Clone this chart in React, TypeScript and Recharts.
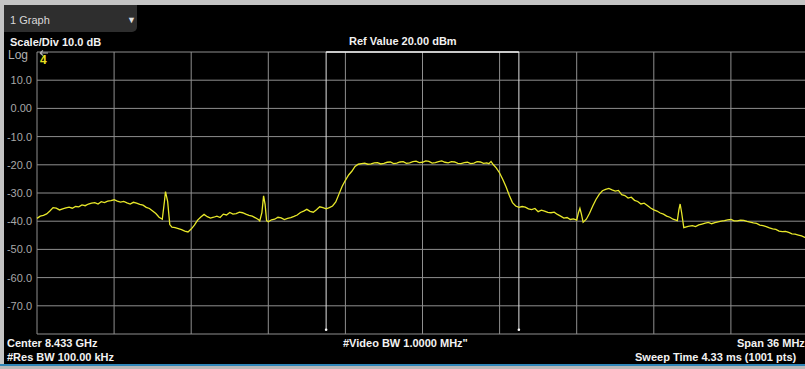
import { ComposedChart, Line, XAxis, YAxis, ReferenceLine, ReferenceDot } from 'recharts'

const freqMHz = [
  -18.0, -17.85, -17.7, -17.55, -17.4, -17.25, -17.1, -16.95, -16.8, -16.65,
  -16.5, -16.35, -16.2, -16.05, -15.9, -15.75, -15.6, -15.45, -15.3, -15.15,
  -15.0, -14.85, -14.7, -14.55, -14.4, -14.25, -14.1, -13.95, -13.8, -13.65,
  -13.5, -13.35, -13.2, -13.05, -12.9, -12.75, -12.6, -12.45, -12.3, -12.15,
  -12.05, -12.0, -11.9, -11.8, -11.7, -11.55, -11.4, -11.25, -11.1, -10.95,
  -10.8, -10.65, -10.5, -10.35, -10.2, -10.05, -9.9, -9.75, -9.6, -9.45,
  -9.3, -9.15, -9.0, -8.85, -8.7, -8.55, -8.4, -8.25, -8.1, -7.95,
  -7.8, -7.65, -7.6, -7.5, -7.42, -7.35, -7.28, -7.2, -7.05, -6.9,
  -6.75, -6.6, -6.45, -6.3, -6.15, -6.0, -5.85, -5.7, -5.55, -5.4,
  -5.25, -5.1, -4.95, -4.8, -4.65, -4.5, -4.35, -4.2, -4.05, -3.9,
  -3.75, -3.6, -3.45, -3.3, -3.15, -3.0, -2.85, -2.7, -2.55, -2.4,
  -2.25, -2.1, -1.95, -1.8, -1.65, -1.5, -1.35, -1.2, -1.05, -0.9,
  -0.75, -0.6, -0.45, -0.3, -0.15, 0.0, 0.15, 0.3, 0.45, 0.6,
  0.75, 0.9, 1.05, 1.2, 1.35, 1.5, 1.65, 1.8, 1.95, 2.1,
  2.25, 2.4, 2.55, 2.7, 2.85, 3.0, 3.1, 3.2, 3.3, 3.45,
  3.6, 3.75, 3.9, 4.05, 4.2, 4.35, 4.5, 4.65, 4.8, 4.95,
  5.1, 5.25, 5.4, 5.55, 5.7, 5.85, 6.0, 6.15, 6.3, 6.45,
  6.6, 6.75, 6.9, 7.05, 7.2, 7.28, 7.35, 7.42, 7.5, 7.65,
  7.8, 7.95, 8.1, 8.25, 8.4, 8.55, 8.7, 8.85, 9.0, 9.15,
  9.3, 9.45, 9.6, 9.75, 9.9, 10.05, 10.2, 10.35, 10.5, 10.65,
  10.8, 10.95, 11.1, 11.25, 11.4, 11.55, 11.7, 11.9, 11.97, 12.03,
  12.1, 12.2, 12.4, 12.6, 12.75, 12.9, 13.05, 13.2, 13.35, 13.5,
  13.65, 13.8, 13.95, 14.1, 14.25, 14.4, 14.55, 14.7, 14.85, 15.0,
  15.15, 15.3, 15.45, 15.6, 15.75, 15.9, 16.05, 16.2, 16.35, 16.5,
  16.65, 16.8, 16.95, 17.1, 17.25, 17.4, 17.55, 17.7, 17.85, 18.0,
]
const levelDbm = [
  -39.0, -38.2, -37.9, -37.4, -36.4, -35.2, -35.4, -36.0, -35.6, -35.3,
  -35.0, -35.4, -34.8, -34.9, -34.2, -34.5, -33.9, -33.6, -33.4, -33.9,
  -33.1, -33.4, -32.9, -32.7, -32.4, -32.9, -33.2, -33.0, -33.5, -33.9,
  -33.3, -33.6, -34.0, -34.3, -35.1, -35.5, -36.4, -37.3, -38.6, -39.3,
  -33.0, -29.5, -33.0, -41.2, -42.1, -42.3, -42.6, -43.0, -43.5, -43.8,
  -42.8, -41.4, -39.6, -38.5, -37.6, -38.4, -38.9, -38.6, -38.2, -38.7,
  -37.5, -37.8, -36.9, -37.5, -37.3, -36.8, -37.0, -37.5, -37.9, -38.2,
  -38.8, -39.5, -39.9, -37.0, -31.0, -34.0, -39.8, -40.2, -39.5, -39.3,
  -38.6, -38.8, -39.4, -39.0, -38.7, -38.3, -37.8, -36.9, -36.4, -35.8,
  -36.5, -36.8, -35.9, -34.9, -35.2, -35.6, -35.2, -34.6, -33.2, -30.4,
  -27.6, -25.5, -23.6, -22.3, -20.6, -19.8, -19.6, -19.4, -19.8, -19.7,
  -19.3, -19.2, -19.7, -19.5, -19.1, -19.0, -19.6, -19.4, -19.0, -18.9,
  -19.5, -19.3, -18.9, -18.7, -19.2, -19.1, -18.6, -18.8, -19.4, -19.2,
  -18.9, -18.6, -19.1, -19.3, -18.9, -19.0, -19.5, -19.6, -19.2, -19.1,
  -19.6, -19.4, -18.9, -19.0, -19.5, -19.3, -19.6, -18.8, -19.9, -21.2,
  -22.9, -25.2, -27.8, -30.8, -33.4, -34.6, -35.1, -34.8, -35.0, -35.6,
  -35.9, -35.5, -36.6, -36.1, -36.4, -36.9, -37.0, -36.8, -37.6, -38.2,
  -38.9, -38.7, -39.4, -39.2, -39.6, -37.0, -35.4, -37.5, -40.4, -39.3,
  -37.2, -34.6, -32.3, -30.5, -29.2, -28.7, -28.4, -28.9, -29.3, -29.1,
  -30.6, -30.9, -31.8, -31.5, -32.6, -33.0, -33.9, -33.6, -34.4, -35.3,
  -36.0, -36.4, -37.1, -37.5, -38.2, -38.6, -39.3, -39.8, -36.0, -33.9,
  -37.0, -42.3, -41.8, -41.6, -41.9, -41.3, -41.0, -40.7, -40.4, -40.9,
  -40.5, -40.2, -40.0, -39.8, -39.5, -39.4, -39.9, -39.9, -39.6, -39.7,
  -40.1, -40.3, -40.6, -40.8, -41.4, -41.6, -41.9, -42.4, -42.7, -42.9,
  -43.5, -43.7, -43.6, -44.0, -44.5, -44.6, -44.9, -45.2, -45.7, -45.8,
]

const levelTicks = [10, 0, -10, -20, -30, -40, -50, -60, -70]
const hGrid = [20, 10, 0, -10, -20, -30, -40, -50, -60, -70, -80]
const vGrid = [-18, -14.4, -10.8, -7.2, -3.6, 0, 3.6, 7.2, 10.8, 14.4, 18]
const channelEdges = [-4.5, 4.5]

const data = freqMHz.map((f, i) => ({ f, dbm: levelDbm[i] }))

const font = '"Liberation Sans", Arial, sans-serif'
const txt = (x: number, y: number, extra: React.CSSProperties = {}): React.CSSProperties => ({
  position: 'absolute',
  left: x,
  top: y,
  fontFamily: font,
  fontSize: 11,
  fontWeight: 700,
  color: '#f2f2f2',
  whiteSpace: 'nowrap',
  lineHeight: '12px',
  ...extra,
})

export default function App() {
  return (
    <div style={{ position: 'fixed', left: 0, top: 0, width: 805, height: 369, overflow: 'hidden', background: '#000' }}>
      {/* frame */}
      <div style={{ position: 'absolute', left: 0, top: 0, width: 805, height: 5, background: '#c4c4c4' }} />
      <div style={{ position: 'absolute', left: 0, top: 0, width: 4, height: 369, background: '#c4c4c4' }} />
      <div style={{ position: 'absolute', left: 0, top: 364, width: 805, height: 2, background: '#2f86b8' }} />
      <div style={{ position: 'absolute', left: 0, top: 366, width: 805, height: 3, background: '#b8b8b8' }} />
      <div style={{ position: 'absolute', left: 4, top: 5, width: 133, height: 27, background: '#2e2e2e', borderBottomRightRadius: 5 }} />
      <div style={txt(10, 14, { fontWeight: 400, color: '#d8d8d8' })}>1 Graph</div>
      <div style={txt(127, 14, { fontWeight: 400, color: '#e0e0e0', fontSize: 9 })}>▼</div>

      <div style={{ position: 'absolute', left: 0, top: 0 }}>
        <ComposedChart width={811} height={369} data={data} margin={{ top: 52, right: 3, bottom: 35, left: 0 }}>
          <XAxis type="number" dataKey="f" domain={[-18, 18]} hide />
          <YAxis
            type="number"
            domain={[-80, 20]}
            ticks={levelTicks}
            width={37}
            axisLine={false}
            tickLine={false}
            tickSize={0}
            tickMargin={5}
            tick={{ fill: '#a8a8a8', fontSize: 11, fontFamily: font }}
            tickFormatter={(v: number) => (v === 0 ? '0.00' : v.toFixed(1))}
          />
          {hGrid.map(v => (
            <ReferenceLine key={'h' + v} y={v} stroke="#8f8f8f" strokeWidth={1} ifOverflow="visible" />
          ))}
          {vGrid.map(v => (
            <ReferenceLine key={'v' + v} x={v} stroke="#8f8f8f" strokeWidth={1} ifOverflow="visible" />
          ))}
          {channelEdges.map(v => (
            <ReferenceLine
              key={'c' + v}
              segment={[{ x: v, y: 20 }, { x: v, y: -78.5 }]}
              stroke="#e0e0e0"
              strokeWidth={1}
              ifOverflow="visible"
            />
          ))}
          <ReferenceLine
            segment={[{ x: channelEdges[0], y: 20 }, { x: channelEdges[1], y: 20 }]}
            stroke="#f4f4f4"
            strokeWidth={1.5}
            ifOverflow="visible"
          />
          {channelEdges.map(v => (
            <ReferenceDot key={'d' + v} x={v} y={-78.5} r={1.3} fill="#ffffff" stroke="none" ifOverflow="visible" />
          ))}
          <Line
            type="linear"
            dataKey="dbm"
            stroke="#e8e82a"
            strokeWidth={1.3}
            dot={false}
            isAnimationActive={false}
          />
        </ComposedChart>
      </div>

      <div style={txt(10, 36)}>Scale/Div 10.0 dB</div>
      <div style={txt(349, 35)}>Ref Value 20.00 dBm</div>
      <div style={txt(8, 49, { fontWeight: 400, fontSize: 12, color: '#b0b0b0', lineHeight: '13px' })}>Log</div>
      {/* small reference-level arrow icon */}
      <svg style={{ position: 'absolute', left: 0, top: 0 }} width={60} height={60}>
        <path d="M40 53 L48 53 M40 53 L43 50.5 M40 53 L43 55.5" stroke="#b0b0b0" strokeWidth={1.2} fill="none" />
      </svg>
      <div style={txt(40, 55, { fontSize: 12, color: '#e8e020', lineHeight: '11px' })}>4</div>

      <div style={txt(7, 337)}>Center 8.433 GHz</div>
      <div style={txt(7, 351)}>#Res BW 100.00 kHz</div>
      <div style={txt(343, 337)}>#Video BW 1.0000 MHz"</div>
      <div style={txt(737, 337)}>Span 36 MHz</div>
      <div style={txt(635, 351)}>Sweep Time 4.33 ms (1001 pts)</div>
    </div>
  )
}
